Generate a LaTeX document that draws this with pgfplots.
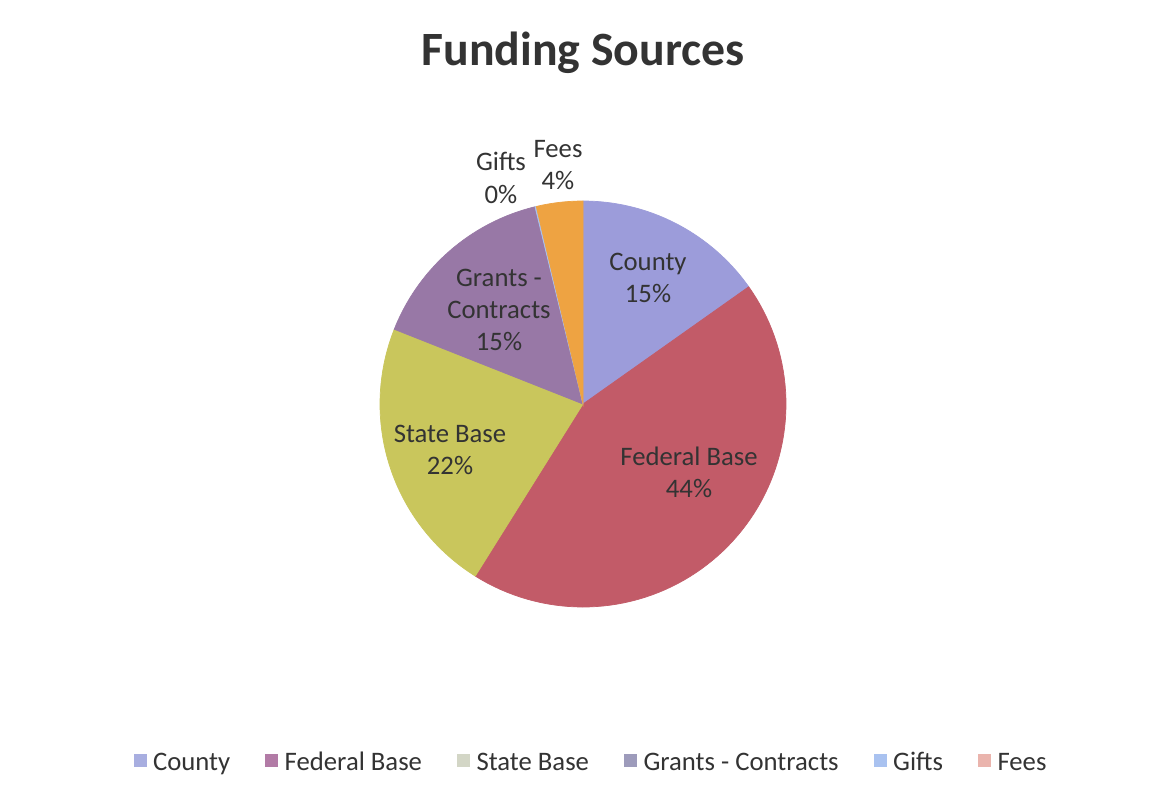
\documentclass[border=0pt]{standalone}
\usepackage{pgfplots}
\usepackage{pgfplotstable}
\pgfplotsset{compat=1.18}
\usepackage{fontspec}
\setmainfont{Carlito}

\definecolor{pie0}{HTML}{9C9CDA}
\definecolor{pie1}{HTML}{C25B68}
\definecolor{pie2}{HTML}{C9C65C}
\definecolor{pie3}{HTML}{9878A6}
\definecolor{pie4}{HTML}{A9C2EE}
\definecolor{pie5}{HTML}{EEA342}
\definecolor{leg0}{HTML}{A8AEE0}
\definecolor{leg1}{HTML}{B27BA6}
\definecolor{leg2}{HTML}{D3D6C6}
\definecolor{leg3}{HTML}{9D9BBB}
\definecolor{leg4}{HTML}{A9C2F0}
\definecolor{leg5}{HTML}{EAB4AD}
\definecolor{txt}{HTML}{333333}

\pgfplotstableread{
name value
County 15.2
Federal 43.7
State 22.1
Grants 15.2
Gifts 0.1
Fees 3.7
}\piedata

\begin{document}
\begin{tikzpicture}
\begin{axis}[
  scale only axis, width=116.7mm, height=80.4mm,
  xmin=0, xmax=1167, ymin=0, ymax=804,
  hide axis, clip=false,
  legend columns=6,
  legend image code/.code={\fill[#1, draw=none] (0mm,0.4mm) rectangle (1.3mm,1.7mm);},
  legend style={at={(axis cs:590,40)}, anchor=center, draw=none, fill=none,
    font=\fontsize{7.6}{9}\selectfont, text=txt,
    nodes={inner sep=0pt, anchor=base west},
    /tikz/every odd column/.append style={column sep=0.65mm},
    /tikz/every even column/.append style={column sep=3.5mm}},
  legend cell align=left,
]
\path[fill=white] (axis cs:0,0) rectangle (axis cs:1167,804);
\pgfmathsetmacro\cur{90}
\pgfplotsforeachungrouped \i in {0,...,5}{%
  \pgfplotstablegetelem{\i}{value}\of\piedata
  \pgfmathsetmacro\nxt{\cur-3.6*\pgfplotsretval}%
  \edef\tmp{\noexpand\addplot[fill=pie\i, draw=pie\i, line width=0.2pt, forget plot,
     domain=\nxt:\cur, samples=80, variable=\noexpand\t]
     ({583+203*cos(\noexpand\t)},{400+203*sin(\noexpand\t)}) -- (axis cs:583,400) -- cycle;}%
  \tmp
  \global\let\cur\nxt
}
\addlegendimage{fill=leg0}\addlegendentry{County}
\addlegendimage{fill=leg1}\addlegendentry{Federal Base}
\addlegendimage{fill=leg2}\addlegendentry{State Base}
\addlegendimage{fill=leg3}\addlegendentry{Grants - Contracts}
\addlegendimage{fill=leg4}\addlegendentry{Gifts}
\addlegendimage{fill=leg5}\addlegendentry{Fees}

\begin{scope}[every node/.style={align=center, text=txt, font=\fontsize{7.6}{9.2}\selectfont, inner sep=0pt}]
\node at (axis cs:648,526) {County\\15\%};
\node at (axis cs:689,332) {Federal Base\\44\%};
\node at (axis cs:450,354) {State Base\\22\%};
\node at (axis cs:499,494) {Grants -\\Contracts\\15\%};
\node at (axis cs:501,626) {Gifts\\0\%};
\node at (axis cs:558,639) {Fees\\4\%};
\end{scope}
\node[text=txt, font=\fontsize{13.6}{16}\selectfont\bfseries] at (axis cs:583,751) {Funding Sources};
\end{axis}
\end{tikzpicture}
\end{document}
